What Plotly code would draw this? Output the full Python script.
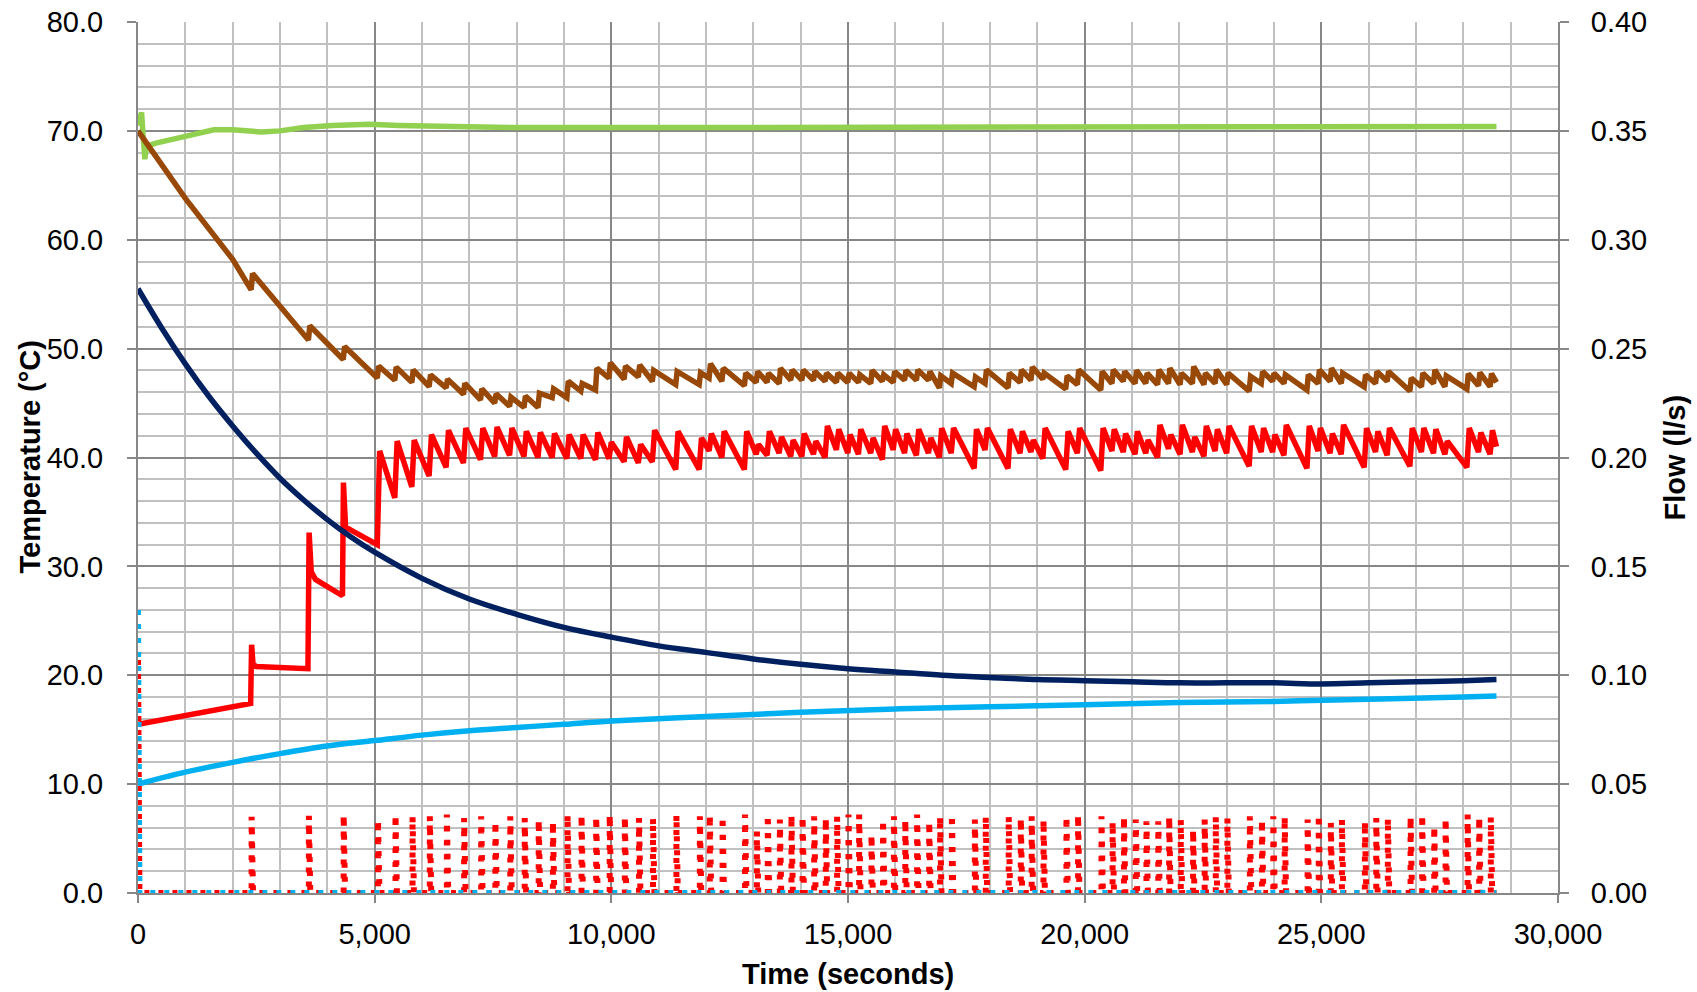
import plotly.graph_objects as go

# ---------------- data ----------------
# pump start times (s) and flow (l/s) of each pulse
pulse_t = [2400, 3610, 4345,
           5070, 5440, 5800, 6165, 6525, 6890, 7250, 7550, 7865, 8170,
           8465, 8765, 9075, 9370, 9680, 9965, 10285, 10585, 10880, 11375,
           11870, 12080, 12350, 12825, 13075, 13305, 13560, 13805, 14040, 14285,
           14530, 14770, 15010, 15235, 15495, 15740, 15970, 16210, 16460, 16715,
           16945, 17195, 17680, 17910, 18395, 18650, 18880, 19130, 19615, 19860,
           20355, 20590, 20830, 21080, 21305, 21555, 21785, 22030, 22290, 22535,
           22770, 23015, 23490, 23745, 23985, 24225, 24710, 24945, 25200, 25435,
           25920, 26160, 26405, 26885, 27130, 27385, 27625, 28090, 28335, 28580]
pulse_flow = [0.035, 0.0355, 0.036,
              0.0337, 0.036, 0.0352, 0.0352, 0.036, 0.0344, 0.0352, 0.0329, 0.0352, 0.0344,
              0.0337, 0.0329, 0.036, 0.036, 0.0352, 0.036, 0.0352, 0.0344, 0.0344, 0.036,
              0.0352, 0.036, 0.0352, 0.036, 0.0283, 0.036, 0.0337, 0.036, 0.0352, 0.0352,
              0.0344, 0.0352, 0.036, 0.036, 0.0268, 0.0337, 0.0352, 0.0337, 0.036, 0.0329,
              0.0352, 0.036, 0.0337, 0.0352, 0.0352, 0.0344, 0.0352, 0.0337, 0.0352, 0.036,
              0.0352, 0.0329, 0.0352, 0.0337, 0.0329, 0.0329, 0.0352, 0.0337, 0.0291, 0.0337,
              0.0352, 0.0344, 0.0352, 0.0337, 0.0352, 0.0352, 0.0337, 0.036, 0.0322, 0.0337,
              0.0329, 0.0344, 0.0344, 0.0352, 0.036, 0.0307, 0.0344, 0.036, 0.035, 0.035]
pulse_len = 30          # s, duration of each pump pulse
end_t = 28700

# red: collector outlet temperature (°C), start-up part
red_start_t = [0, 2380, 2400, 2430, 2500, 3590, 3615, 3660, 3750, 4320, 4340, 4385]
red_start_v = [15.5, 17.4, 22.8, 21.0, 20.8, 20.6, 33.1, 29.5, 28.8, 27.3, 37.7, 33.6]
# value just before / just after each regular pulse (pulse_t[3:])
red_trough = [32.0, 36.3, 37.3, 38.3, 39.1, 39.5, 39.8, 40.1, 40.2, 40.1,
              40.0, 40.0, 39.9, 39.9, 39.8, 39.9, 39.6, 39.5, 39.6, 38.9,
              38.9, 40.6, 40.0, 38.9, 40.3, 40.2, 40.4, 40.1, 40.1, 40.3,
              40.0, 40.7, 40.4, 40.3, 40.4, 39.8, 40.7, 40.4, 40.2, 40.4,
              40.0, 40.4, 39.0, 40.7, 39.0, 40.4, 40.5, 39.9, 38.9, 40.4,
              38.8, 40.6, 40.5, 40.3, 40.4, 40.0, 40.8, 40.3, 40.5, 40.1,
              40.6, 40.4, 39.2, 40.5, 40.5, 40.2, 39.0, 40.6, 40.4, 40.3,
              39.1, 40.5, 40.2, 39.2, 40.5, 40.4, 40.3, 39.1, 40.5, 40.3]
red_peak = [40.6, 41.5, 41.6, 42.1, 42.5, 42.7, 42.7, 42.8, 42.7, 42.4,
            42.3, 42.2, 42.1, 42.1, 42.3, 41.4, 41.9, 41.2, 42.5, 42.4,
            41.8, 42.2, 42.4, 42.4, 41.2, 42.4, 41.9, 41.6, 42.2, 41.5,
            42.9, 42.6, 42.1, 42.6, 41.8, 42.9, 42.6, 42.2, 42.6, 41.8,
            42.7, 42.7, 42.6, 42.7, 42.6, 42.4, 41.6, 42.7, 42.4, 42.7,
            42.7, 42.6, 42.2, 42.4, 41.6, 43.0, 42.1, 43.0, 41.9, 42.9,
            42.6, 42.9, 42.9, 42.7, 42.1, 43.0, 42.9, 42.7, 42.2, 43.0,
            42.7, 42.4, 42.7, 42.7, 42.7, 42.6, 41.5, 42.7, 42.3, 42.5]
red_end = 41.0

# brown: tank top temperature (°C)
brown_start_t = [0, 1000, 2000, 2390, 2420, 3600, 3630, 4335, 4365]
brown_start_v = [70.0, 63.8, 58.2, 55.4, 56.9, 50.8, 52.1, 49.0, 50.2]
brown_trough = [47.3, 47.1, 46.9, 46.5, 46.4, 45.8, 45.3, 45.0, 44.7, 44.6,
                44.6, 45.5, 45.5, 46.1, 46.2, 47.3, 47.2, 47.4, 47.0, 46.7,
                46.7, 47.3, 47.0, 46.6, 46.9, 46.9, 46.8, 47.1, 47.1, 47.1,
                47.0, 46.9, 46.9, 46.9, 46.8, 47.0, 46.9, 47.1, 47.1, 47.1,
                46.4, 46.8, 46.5, 46.8, 46.4, 46.9, 47.1, 47.2, 46.3, 46.7,
                46.2, 46.8, 47.0, 46.8, 46.8, 46.7, 46.8, 46.7, 46.8, 46.7,
                46.8, 46.7, 46.1, 46.8, 47.0, 46.8, 46.2, 46.8, 47.0, 46.8,
                46.5, 46.8, 47.0, 46.1, 46.5, 46.8, 46.5, 46.3, 46.6, 46.5]
brown_peak = [48.4, 48.3, 48.05, 47.6, 47.2, 46.8, 46.3, 45.85, 45.55, 45.65,
              45.9, 46.3, 47.0, 46.8, 48.2, 48.7, 48.4, 48.5, 48.0, 47.9,
              47.8, 48.6, 48.2, 47.75, 47.9, 47.75, 48.2, 48.05, 48.05, 47.9,
              47.75, 47.75, 47.75, 47.6, 48.0, 47.6, 47.9, 48.0, 48.05, 47.9,
              47.5, 47.75, 47.4, 48.05, 47.75, 48.05, 48.3, 47.75, 47.5, 48.05,
              47.9, 48.05, 47.9, 48.0, 47.75, 48.05, 48.2, 47.75, 48.35, 47.75,
              48.05, 47.75, 47.45, 47.9, 47.75, 47.6, 47.6, 48.05, 48.2, 47.75,
              47.6, 47.9, 47.9, 47.3, 47.75, 48.05, 47.5, 47.7, 47.8, 47.7]
brown_end = 46.9

# green: supply temperature (°C)
green_t = [0, 40, 75, 110, 145, 180, 400, 1000, 1600, 2000, 2600, 3000, 3500,
           4100, 4500, 4900, 5500, 6600, 8000, 10000, 15000, 20000, 25000, 28700]
green_v = [70.5, 71.0, 71.7, 69.5, 67.4, 68.6, 68.9, 69.5, 70.1, 70.1, 69.9, 70.0, 70.3,
           70.5, 70.6, 70.6, 70.5, 70.4, 70.3, 70.3, 70.3, 70.3, 70.3, 70.4]

# navy: return temperature (°C)
navy_t = [0, 500, 1000, 1500, 2000, 2500, 3000, 3500, 4000, 4500, 5000, 6000, 7000,
          8000, 9000, 10000, 11000, 12000, 13000, 14000, 15000, 16000, 17000, 18000,
          19000, 20000, 21000, 22000, 23000, 24000, 25000, 26000, 27000, 28000, 28700]
navy_v = [55.5, 51.9, 48.6, 45.6, 42.9, 40.4, 38.1, 36.1, 34.3, 32.7, 31.3, 28.9, 27.0,
          25.6, 24.4, 23.5, 22.7, 22.1, 21.5, 21.0, 20.6, 20.3, 20.0, 19.8,
          19.6, 19.5, 19.4, 19.3, 19.3, 19.3, 19.2, 19.3, 19.4, 19.5, 19.6]

# light blue: cold water temperature (°C)
blue_t = [0, 1000, 2000, 3000, 4000, 5000, 6000, 7000, 8000, 9000, 10000, 12000,
          14000, 16000, 18000, 20000, 22000, 24000, 26000, 28000, 28700]
blue_v = [10.0, 11.1, 12.0, 12.8, 13.5, 14.0, 14.5, 14.9, 15.2, 15.5, 15.8, 16.2,
          16.6, 16.9, 17.1, 17.3, 17.5, 17.6, 17.8, 18.0, 18.1]

# flows at start (l/s)
red_flow_start = 0.107
blue_flow_start = 0.13

# ---------------- build series ----------------
teeth_t = pulse_t[3:]

rx, ry = list(red_start_t), list(red_start_v)
for tp, lo, hi in zip(teeth_t, red_trough, red_peak):
    rx += [tp - 15, tp + 35]
    ry += [lo, hi]
rx.append(end_t)
ry.append(red_end)

bx, by = list(brown_start_t), list(brown_start_v)
for tp, lo, hi in zip(teeth_t, brown_trough, brown_peak):
    bx += [tp - 15, tp + 15]
    by += [lo, hi]
bx.append(end_t)
by.append(brown_end)

fx, fy = [0, 30], [red_flow_start, 0]
for tp, q in zip(pulse_t, pulse_flow):
    fx += [tp, tp, tp + pulse_len, tp + pulse_len]
    fy += [0, q, q, 0]
fx.append(end_t)
fy.append(0)

gx, gy = [0, 30, end_t], [blue_flow_start, 0, 0]

# ---------------- figure ----------------
fig = go.Figure()
lw = 5.5
fig.add_trace(go.Scatter(x=green_t, y=green_v, mode="lines",
                         line=dict(color="#92D050", width=lw)))
fig.add_trace(go.Scatter(x=bx, y=by, mode="lines",
                         line=dict(color="#984807", width=lw)))
fig.add_trace(go.Scatter(x=rx, y=ry, mode="lines",
                         line=dict(color="#FF0000", width=lw)))
fig.add_trace(go.Scatter(x=navy_t, y=navy_v, mode="lines", line_shape="spline",
                         line=dict(color="#002060", width=lw)))
fig.add_trace(go.Scatter(x=blue_t, y=blue_v, mode="lines", line_shape="spline",
                         line=dict(color="#00B0F0", width=lw)))
# flow rates on the secondary axis, round-dot style
fig.add_trace(go.Scatter(x=fx, y=fy, mode="lines", yaxis="y2",
                         line=dict(color="#FF0000", width=6, dash="5px,9px")))
fig.add_trace(go.Scatter(x=gx, y=gy, mode="lines", yaxis="y2",
                         line=dict(color="#00B0F0", width=6, dash="5px,9px")))

FONT = "Liberation Sans, Arial, sans-serif"
major = "#878787"
minor = "#C0C0C0"

fig.update_layout(
    width=1697, height=992, autosize=False,
    margin=dict(l=138, r=139, t=22, b=99, autoexpand=False),
    paper_bgcolor="white", plot_bgcolor="white",
    showlegend=False,
    font=dict(family=FONT, size=29, color="black"),
    xaxis=dict(range=[0, 30000], dtick=5000, tick0=0, tickformat=",d",
               showgrid=True, gridcolor=major, gridwidth=2,
               minor=dict(dtick=1000, showgrid=True, gridcolor=minor, gridwidth=2),
               showline=True, linecolor=major, linewidth=2,
               ticks="outside", ticklen=8, tickwidth=2, tickcolor=major,
               ticklabelstandoff=6, zeroline=False, automargin=False,
               tickfont=dict(family=FONT, size=29, color="black")),
    yaxis=dict(range=[0, 80], dtick=10, tick0=0, tickformat=".1f",
               showgrid=True, gridcolor=major, gridwidth=2,
               minor=dict(dtick=2, showgrid=True, gridcolor=minor, gridwidth=2),
               showline=True, linecolor=major, linewidth=2,
               ticks="outside", ticklen=9, tickwidth=2, tickcolor=major,
               ticklabelstandoff=18, zeroline=False, automargin=False,
               tickfont=dict(family=FONT, size=29, color="black")),
    yaxis2=dict(range=[0, 0.4], dtick=0.05, tick0=0, tickformat=".2f",
                overlaying="y", side="right", showgrid=False,
                showline=True, linecolor=major, linewidth=2,
                ticks="outside", ticklen=9, tickwidth=2, tickcolor=major,
                ticklabelstandoff=16, zeroline=False, automargin=False,
                tickfont=dict(family=FONT, size=29, color="black")),
    annotations=[
        dict(text="<b>Time (seconds)</b>", xref="paper", yref="paper",
             x=0.5, y=(893 - 974) / 871, xanchor="center", yanchor="middle",
             showarrow=False, font=dict(family=FONT, size=29, color="black")),
        dict(text="<b>Temperature (°C)</b>", xref="paper", yref="paper",
             x=(29 - 138) / 1420, y=0.5, xanchor="center", yanchor="middle",
             textangle=-90, showarrow=False,
             font=dict(family=FONT, size=29, color="black")),
        dict(text="<b>Flow (l/s)</b>", xref="paper", yref="paper",
             x=(1674 - 138) / 1420, y=0.5, xanchor="center", yanchor="middle",
             textangle=-90, showarrow=False,
             font=dict(family=FONT, size=29, color="black")),
    ],
)

fig.write_html("out.html")
